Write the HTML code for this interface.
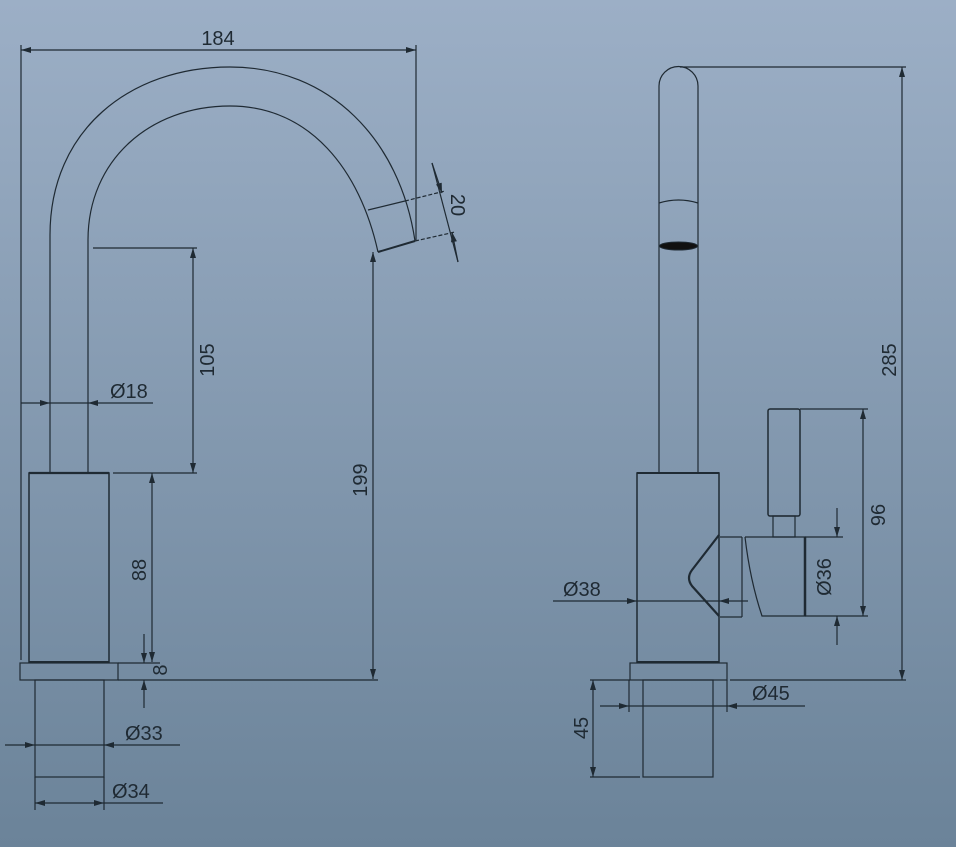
<!DOCTYPE html>
<html><head><meta charset="utf-8"><style>
html,body{margin:0;padding:0;width:956px;height:847px;overflow:hidden}
body{background:linear-gradient(#9cafc6,#6b8399)}
svg{display:block}
text{font-family:"Liberation Sans",sans-serif;font-size:20px;fill:#1f2a33}
</style></head><body>
<svg width="956" height="847" viewBox="0 0 956 847" xmlns="http://www.w3.org/2000/svg">
<defs>
<marker id="a" viewBox="0 0 10 6" refX="10" refY="3" markerWidth="12" markerHeight="6" markerUnits="userSpaceOnUse" orient="auto-start-reverse"><path d="M0,0 L10,3 L0,6z" fill="#1f2a33"/></marker>
</defs>
<g stroke="#1f2a33" stroke-width="1.2" fill="none">
<!-- LEFT VIEW -->
<path d="M50,472 L50,235 C50,130 130,67 230,67 C330,67 400,140 415,241"/>
<path d="M88,472 L88,240 C88,160 150,106 230,106 C310,106 360,170 378,252"/>
<line x1="368" y1="210" x2="405" y2="201"/>
<line x1="378" y1="252" x2="415" y2="241" stroke-width="2"/>
<rect x="29" y="473" width="80" height="189" stroke-width="1.5"/>
<line x1="29" y1="473" x2="109" y2="473" stroke-width="2.2"/>
<line x1="29" y1="662" x2="109" y2="662" stroke-width="2"/>
<rect x="20" y="663" width="98" height="17"/>
<rect x="35" y="680" width="69" height="97"/>
<!-- 184 -->
<line x1="21" y1="45" x2="21" y2="660"/>
<line x1="416" y1="45" x2="416" y2="240"/>
<line x1="21" y1="50" x2="416" y2="50" marker-start="url(#a)" marker-end="url(#a)"/>
<!-- 20 -->
<line x1="405" y1="201" x2="445" y2="191" stroke-dasharray="4,2"/>
<line x1="415" y1="241" x2="455" y2="232" stroke-dasharray="4,2"/>
<line x1="432" y1="163" x2="458" y2="262"/>
<line x1="432" y1="163" x2="442" y2="193" marker-end="url(#a)"/>
<line x1="458" y1="262" x2="452" y2="232" marker-end="url(#a)"/>
<!-- 105 -->
<line x1="93" y1="248" x2="197" y2="248"/>
<line x1="113" y1="473" x2="197" y2="473"/>
<line x1="193" y1="248" x2="193" y2="473" marker-start="url(#a)" marker-end="url(#a)"/>
<!-- Ø18 -->
<line x1="21" y1="403" x2="50" y2="403" marker-end="url(#a)"/>
<line x1="153" y1="403" x2="88" y2="403" marker-end="url(#a)"/>
<line x1="50" y1="403" x2="88" y2="403"/>
<!-- 199 -->
<line x1="373" y1="252" x2="373" y2="679" marker-start="url(#a)" marker-end="url(#a)"/>
<line x1="118" y1="680" x2="378" y2="680"/>
<!-- 88 -->
<line x1="152" y1="473" x2="152" y2="662" marker-start="url(#a)" marker-end="url(#a)"/>
<line x1="118" y1="663" x2="160" y2="663"/>
<!-- 8 -->
<line x1="144" y1="634" x2="144" y2="663" marker-end="url(#a)"/>
<line x1="144" y1="708" x2="144" y2="680" marker-end="url(#a)"/>
<!-- Ø33 -->
<line x1="5" y1="745" x2="35" y2="745" marker-end="url(#a)"/>
<line x1="180" y1="745" x2="104" y2="745" marker-end="url(#a)"/>
<line x1="35" y1="745" x2="104" y2="745"/>
<!-- Ø34 -->
<line x1="35" y1="777" x2="35" y2="810"/>
<line x1="104" y1="777" x2="104" y2="810"/>
<line x1="35" y1="803" x2="104" y2="803" marker-start="url(#a)" marker-end="url(#a)"/>
<line x1="104" y1="803" x2="163" y2="803"/>

<!-- RIGHT VIEW -->
<path d="M659,473 L659,86 A19.5,19.5 0 0 1 698,86 L698,473"/>
<path d="M659,203 Q678.5,197 698,203"/>
<ellipse cx="678.5" cy="246" rx="19" ry="4" fill="#111" stroke-width="1"/>
<rect x="637" y="473" width="82" height="189" stroke-width="1.5"/>
<line x1="637" y1="473" x2="719" y2="473" stroke-width="2"/>
<line x1="637" y1="662" x2="719" y2="662" stroke-width="2"/>
<rect x="630" y="663" width="97" height="17"/>
<rect x="643" y="680" width="70" height="97"/>
<rect x="768" y="409" width="32" height="107" rx="2" stroke-width="1.5"/>
<rect x="773" y="516" width="22" height="21"/>
<path d="M745,537 L805,537 L805,616 L762,616 Q750,580 745,537"/>
<line x1="805" y1="537" x2="805" y2="616" stroke-width="2.5"/>
<path d="M742,537 L742,617 M720,537 L742,537 M720,617 L742,617"/>
<path d="M719,535 L692,570 Q686,578 692,586 L719,616" stroke-width="2.2"/>
<!-- 285 -->
<line x1="680" y1="67" x2="906" y2="67"/>
<line x1="902" y1="67" x2="902" y2="680" marker-start="url(#a)" marker-end="url(#a)"/>
<line x1="730" y1="680" x2="906" y2="680"/>
<!-- 96 -->
<line x1="800" y1="409" x2="868" y2="409"/>
<line x1="805" y1="616" x2="868" y2="616"/>
<line x1="863" y1="409" x2="863" y2="616" marker-start="url(#a)" marker-end="url(#a)"/>
<!-- Ø36 -->
<line x1="805" y1="537" x2="843" y2="537"/>
<line x1="837" y1="508" x2="837" y2="537" marker-end="url(#a)"/>
<line x1="837" y1="645" x2="837" y2="616" marker-end="url(#a)"/>
<!-- Ø38 -->
<line x1="553" y1="601" x2="637" y2="601" marker-end="url(#a)"/>
<line x1="748" y1="601" x2="719" y2="601" marker-end="url(#a)"/>
<line x1="637" y1="601" x2="719" y2="601"/>
<!-- Ø45 -->
<line x1="629" y1="680" x2="629" y2="712"/>
<line x1="727" y1="680" x2="727" y2="712"/>
<line x1="600" y1="706" x2="629" y2="706" marker-end="url(#a)"/>
<line x1="805" y1="706" x2="727" y2="706" marker-end="url(#a)"/>
<line x1="629" y1="706" x2="727" y2="706"/>
<!-- 45 -->
<line x1="590" y1="680" x2="630" y2="680"/>
<line x1="590" y1="777" x2="640" y2="777"/>
<line x1="593" y1="680" x2="593" y2="777" marker-start="url(#a)" marker-end="url(#a)"/>
</g>
<g>
<text x="218" y="45" text-anchor="middle">184</text>
<text transform="translate(451,205) rotate(90)" text-anchor="middle">20</text>
<text transform="translate(214,360) rotate(-90)" text-anchor="middle">105</text>
<text x="110" y="398">Ø18</text>
<text transform="translate(367,480) rotate(-90)" text-anchor="middle">199</text>
<text transform="translate(146,570) rotate(-90)" text-anchor="middle">88</text>
<text transform="translate(167,670) rotate(-90)" text-anchor="middle">8</text>
<text x="125" y="740">Ø33</text>
<text x="112" y="798">Ø34</text>
<text transform="translate(896,360) rotate(-90)" text-anchor="middle">285</text>
<text transform="translate(885,515) rotate(-90)" text-anchor="middle">96</text>
<text transform="translate(831,577) rotate(-90)" text-anchor="middle">Ø36</text>
<text x="563" y="596">Ø38</text>
<text x="752" y="700">Ø45</text>
<text transform="translate(588,728) rotate(-90)" text-anchor="middle">45</text>
</g>
</svg>
</body></html>
